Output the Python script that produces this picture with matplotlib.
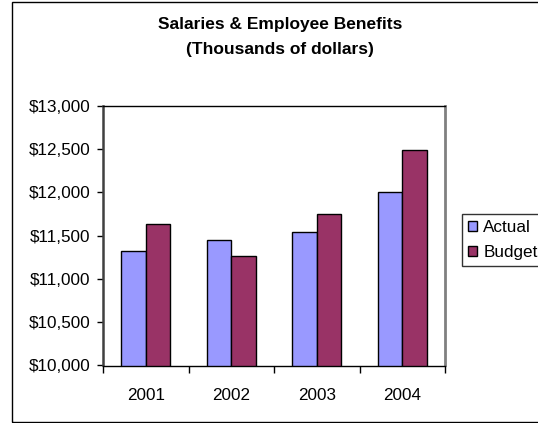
import matplotlib.pyplot as plt
import numpy as np
from matplotlib.patches import Rectangle
from matplotlib.ticker import FuncFormatter

plt.rcParams['font.family'] = ['Liberation Sans', 'DejaVu Sans']

years = ["2001", "2002", "2003", "2004"]
actual = [11320, 11450, 11540, 12000]
budget = [11630, 11270, 11750, 12490]

W, H = 538, 423
fig = plt.figure(figsize=(W / 100, H / 100), dpi=100)

# chart frame (right side runs past the edge)
fig.patches.append(Rectangle((12 / W, 1 / H), 1.0, (421 - 1) / H,
                             transform=fig.transFigure, fill=False,
                             edgecolor="black", linewidth=1.0))

ax = fig.add_axes([103 / W, (H - 365.5) / H, (445 - 103) / W, (365.5 - 105.7) / H])

x = np.arange(len(years))
bw = 0.285
ax.bar(x - bw / 2, actual, bw, color="#9999FF", edgecolor="black", linewidth=1.0, label="Actual")
ax.bar(x + bw / 2, budget, bw, color="#993366", edgecolor="black", linewidth=1.0, label="Budget")

ax.set_xlim(-0.5, len(years) - 0.5)
ax.set_ylim(10000, 13000)
ax.set_yticks(np.arange(10000, 13001, 500))
ax.yaxis.set_major_formatter(FuncFormatter(lambda v, p: f"${v:,.0f}"))
ax.tick_params(axis="y", direction="out", length=4, width=1, pad=5, labelsize=12.3)

ax.set_xticks(x)
ax.set_xticklabels(years)
ax.set_xticks(np.arange(-0.5, len(years), 1.0), minor=True)
ax.tick_params(axis="x", which="major", length=0, pad=16, labelsize=12.3)
ax.tick_params(axis="x", which="minor", direction="out", length=5, width=1)

ax.spines["left"].set_color("#404040")
ax.spines["left"].set_linewidth(1.8)
ax.spines["bottom"].set_color("black")
ax.spines["bottom"].set_linewidth(1.0)
ax.spines["top"].set_color("black")
ax.spines["top"].set_linewidth(1.0)
ax.spines["right"].set_color("#808080")
ax.spines["right"].set_linewidth(2.0)

fig.text(280 / W, 1 - 25 / H, "Salaries & Employee Benefits", ha="center", va="center",
         fontsize=12.5, fontweight="bold")
fig.text(280 / W, 1 - 49 / H, "(Thousands of dollars)", ha="center", va="center",
         fontsize=12.5, fontweight="bold")

leg = ax.legend(loc="upper left", bbox_to_anchor=(462 / W, 1 - 214 / H),
                bbox_transform=fig.transFigure, borderaxespad=0, fontsize=12.3,
                handlelength=0.5, handleheight=0.5, handletextpad=0.4,
                labelspacing=0.6, borderpad=0.35, fancybox=False, frameon=True)
leg.get_frame().set_edgecolor("black")
leg.get_frame().set_linewidth(1.0)

fig.savefig("out.png", dpi=100)
